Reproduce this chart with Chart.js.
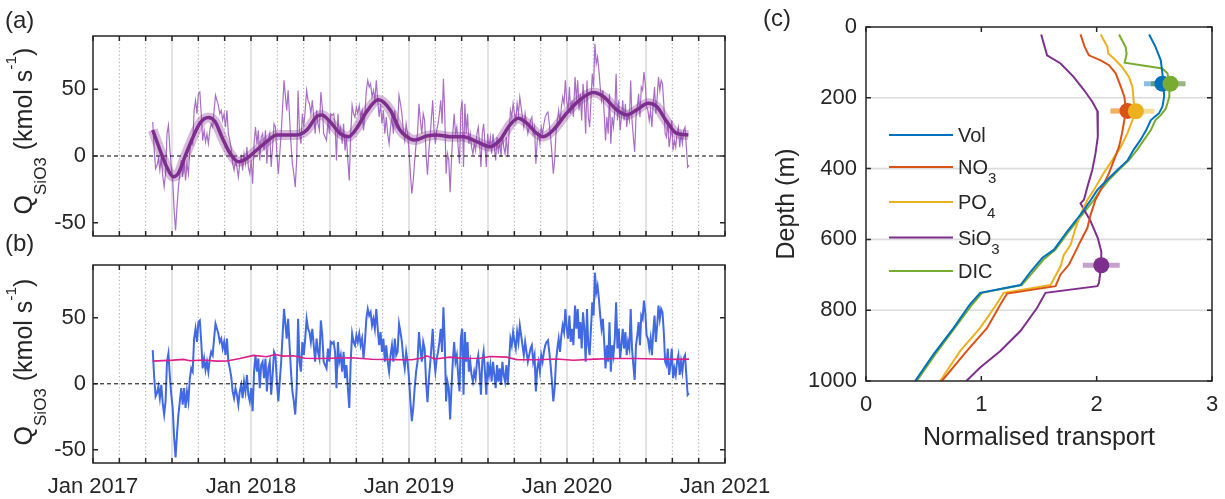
<!DOCTYPE html>
<html><head><meta charset="utf-8">
<script src="https://cdn.jsdelivr.net/npm/chart.js@4.4.1/dist/chart.umd.min.js"></script>
<style>
html,body{margin:0;padding:0;background:#fff;}
#wrap{position:relative;width:1225px;height:499px;overflow:hidden;background:#fff;}
canvas{position:absolute;}
</style></head><body>
<div id="wrap">
<canvas id="cc" width="465" height="499" style="left:760px;top:0"></canvas>
<canvas id="ca" width="760" height="245" style="left:0;top:0"></canvas>
<canvas id="cb" width="800" height="271" style="left:0;top:228px"></canvas>
</div>
<script>
// ---------------- DATA ----------------
const tickLabels = ['Jan 2017', 'Jan 2018', 'Jan 2019', 'Jan 2020', 'Jan 2021'];
const yTicksQ = [-50, 0, 50];

// raw Q_SiO3 record (kmol/s), four consecutive pieces, each sampled evenly between its first and last date (decimal year)
const seg1Range = [2017.378, 2018.209];
const seg1Q = [25.5,5.5,-9.5,-7.0,-2.0,-10.8,-0.8,-14.5,-23.3,-13.3,
16.7,23.0,5.5,-8.3,-18.3,-40.8,-55.8,-38.3,-23.3,-13.3,
-3.3,-15.8,-3.3,-18.3,-5.8,-13.3,4.2,11.7,9.2,34.2,
41.7,31.7,46.7,48.0,31.7,11.7,19.2,10.5,16.7,9.2,
19.2,24.2,21.7,34.2,45.5,41.7,38.0,31.7,34.2,26.7,
31.7,21.7,34.2,16.7,11.7,5.5,-5.8,-10.8,-3.3,-8.3,
-15.8,-5.8,-0.8,-10.8,1.7,-5.8,6.7,-8.3,-13.3,-3.3,
-20.8,9.2,21.7,9.2,19.2,-3.3,14.2,16.7,4.2,19.2,
-5.8,11.7,16.7,-8.3,6.7,24.2,21.7,1.7,-13.3,1.7,
16.7,36.7,56.7];
const seg2Range = [2018.226, 2019.135];
const seg2Q = [34.2,49.2,29.2,9.2,-5.8,-13.3,-23.3,-3.3,49.2,16.7,
9.2,31.7,21.7,34.2,49.2,41.7,39.2,31.7,41.7,29.2,
16.7,34.2,24.2,19.2,48.0,36.7,16.7,14.2,11.7,26.7,
16.7,31.7,30.5,31.7,24.2,-3.3,31.7,16.7,21.7,9.2,
24.2,4.2,14.2,-3.3,-18.3,16.7,38.0,31.7,29.2,36.7,
31.7,38.0,29.2,34.2,19.2,31.7,49.2,56.7,51.7,54.2,
44.2,49.2,41.7,56.7,41.7,29.2,39.2,24.2,34.2,16.7,
29.2,16.7,9.2,21.7,29.2,16.7,34.2,21.7,24.2,45.5,
39.2,31.7,19.2,11.7,24.2,16.7,4.2,-13.3,-28.3,-18.3,
-3.3,9.2,16.7,39.2,26.7,16.7,31.7,26.7,1.7,-14.0,
4.2,16.7];
const seg3Range = [2019.150, 2020.049];
const seg3Q = [41.7,19.2,9.2,19.2,24.2,31.7,41.7,24.2,58.0,31.7,
-13.3,1.7,-3.3,-27.1,-3.3,16.7,31.7,16.7,21.7,6.7,
-5.8,34.2,41.7,-8.3,39.2,16.7,31.7,9.2,16.7,6.7,
1.7,9.2,4.2,16.7,21.7,9.2,-8.3,16.7,24.2,9.2,
-8.3,16.7,6.7,14.2,1.7,16.7,6.7,-3.3,14.2,1.7,
11.7,-0.8,16.7,6.7,1.7,14.2,-0.8,16.7,34.2,29.2,
39.2,31.7,26.7,39.2,31.7,44.2,36.7,29.2,21.7,31.7,
24.2,16.7,21.7,26.7,29.2,16.7,21.7,-5.8,11.7,16.7,
9.2,21.7,16.7,24.2,29.2,31.7,33.0,24.2,14.2,1.7,
-13.3,-3.3,16.7,26.7,34.2,24.2,36.7,44.2,39.2,56.7,
41.7,34.2,51.7,31.7,41.7,29.2,54.2];
const seg4Range = [2020.051, 2020.772];
const seg4Q = [59.2,41.7,56.7,34.2,46.7,26.7,54.2,41.7,16.7,56.7,
29.2,21.7,41.7,61.7,51.7,84.2,69.2,74.2,64.2,51.7,
41.7,49.2,31.7,11.7,29.2,16.7,46.7,9.2,29.2,21.7,
34.2,61.7,26.7,41.7,19.2,29.2,41.7,26.7,39.2,21.7,
31.7,26.7,56.7,26.7,14.2,3.0,29.2,36.7,46.7,29.2,
51.7,49.2,63.0,54.2,36.7,34.2,26.7,34.2,21.7,39.2,
51.7,31.7,44.2,59.2,49.2,56.7,54.2,39.2,16.7,14.2,
26.7,6.7,14.2,26.7,4.2,11.7,6.7,16.7,21.7,6.7,
16.7,9.2,19.2,21.7,6.7,-8.3,-7.0];

// low-pass curve (panel a)
const smoothYr = [2017.378,2017.424,2017.466,2017.508,2017.540,2017.582,2017.625,2017.677,2017.730,2017.772,
2017.815,2017.867,2017.920,2017.973,2018.036,2018.099,2018.163,2018.226,2018.289,2018.353,
2018.416,2018.447,2018.500,2018.563,2018.616,2018.669,2018.732,2018.806,2018.880,2018.943,
2019.006,2019.038,2019.112,2019.175,2019.259,2019.344,2019.428,2019.513,2019.576,2019.639,
2019.692,2019.745,2019.808,2019.850,2019.913,2019.998,2020.082,2020.166,2020.230,2020.315,
2020.378,2020.441,2020.515,2020.568,2020.631,2020.694,2020.768];
const smoothQ = [19.5,4.5,-8,-15.5,-13,-0.5,12,24.6,28.8,25.8,
14.5,2,-4.3,-1.8,4.5,10.8,15.8,15.8,15.8,19.5,
29.6,30.8,25.8,17,14.5,20.8,33.3,42.1,34.6,19.5,
13,12,15,15.8,14.5,14.5,10.8,7,12,23.3,
28.3,24.6,17,14.5,19.5,32.1,42.1,47.6,44.6,34.6,
30.8,34.6,39.6,37.1,25.8,17,15.8];

// running mean (panel b, pink)
const meanYr = [2017.378,2017.508,2017.572,2017.614,2017.698,2017.783,2017.846,2017.930,2018.015,2018.099,
2018.152,2018.204,2018.268,2018.342,2018.426,2018.511,2018.637,2018.764,2018.891,2019.017,
2019.091,2019.112,2019.165,2019.259,2019.344,2019.449,2019.513,2019.618,2019.682,2019.808,
2019.935,2020.040,2020.177,2020.304,2020.430,2020.557,2020.684,2020.772];
const meanQ = [17.2,17.9,18.5,17.5,18.0,17.2,17.3,19.2,21.5,20.5,
22.2,21.0,21.2,19.3,19.2,19.4,19.7,18.6,18.3,18.2,
19.7,21.2,18.8,20.2,19.2,19.3,20.7,20.2,18.3,18.2,
18.8,17.8,18.7,19.2,19.2,18.8,18.5,18.7];

const zeroYr = [2017, 2021];
const zeroQ = [0, 0];

// panel c: normalised transport profiles
const seriesNames = ['Vol', 'NO3', 'PO4', 'SiO3', 'DIC'];
const volT = [2.455,2.51,2.556,2.57,2.58,2.585,2.57,2.54,2.47,2.43,2.38,2.32,2.27,2.18,2.09,2.006,1.95,1.86,1.745,1.63,1.53,1.43,1.34,0.99,0.90,0.76,0.585,0.426];
const volDepth = [21,56,94,131,160,197,225,244,263,291,319,347,376,404,432,460,488,530,577,629,652,690,729,751,784,850,925,1000];
const no3T = [1.86,1.896,1.933,2.035,2.107,2.165,2.21,2.24,2.25,2.25,2.24,2.22,2.194,2.15,2.107,2.05,1.99,1.948,1.919,1.86,1.803,1.76,1.687,1.643,1.223,1.165,1.05,0.875,0.658];
const no3Depth = [21,56,80,94,108,131,169,197,225,239,263,300,338,376,413,451,488,530,568,605,643,671,699,732,753,784,850,915,1000];
const po4T = [2.035,2.093,2.1,2.15,2.22,2.28,2.31,2.32,2.33,2.31,2.267,2.21,2.136,2.06,1.977,1.92,1.86,1.817,1.774,1.716,1.687,1.6,1.194,1.12,0.99,0.817,0.643];
const po4Depth = [21,56,75,89,113,141,169,206,239,263,300,338,376,413,460,488,530,568,615,643,676,729,751,789,850,915,1000];
const sio3T = [1.519,1.57,1.687,1.80,1.89,1.962,2.006,2.01,2.01,1.99,1.962,1.92,1.89,1.86,1.948,2.01,2.04,2.04,2.02,2.006,1.556,1.484,1.339,1.165,0.99,0.87];
const sio3Depth = [21,80,103,141,178,211,237,263,310,357,404,451,488,498,549,596,634,671,723,732,751,793,859,915,962,1000];
const dicT = [2.194,2.25,2.26,2.243,2.57,2.614,2.63,2.63,2.60,2.556,2.51,2.47,2.41,2.35,2.28,2.19,2.107,2.035,1.977,1.875,1.76,1.643,1.54,1.44,1.35,1.006,0.92,0.77,0.60,0.44];
const dicDepth = [21,56,75,101,117,131,160,197,230,249,263,291,319,347,376,404,432,460,488,530,577,629,657,695,729,751,784,850,925,1000];

// maxima with uncertainty (Vol, NO3, PO4, SiO3, DIC)
const peakT = [2.57, 2.267, 2.34, 2.04, 2.64];
const peakDepth = [160, 237, 238, 673, 160];
const peakLo = [2.41, 2.12, 2.12, 1.88, 2.47];
const peakHi = [2.70, 2.38, 2.50, 2.20, 2.77];

const depthTicks = [0, 200, 400, 600, 800, 1000];
const transportTicks = [0, 1, 2, 3];

// ---------------- STYLE / HELPERS ----------------
const FONT = "'Liberation Sans', Arial, Helvetica, sans-serif";
const INK = '#262626';
const TICK_SIZE = 22;
const TITLE_SIZE = 25;
const colors = ['#0072BD', '#D95319', '#EDB120', '#7E2F8E', '#77AC30'];
const errColors = ['rgba(0,114,189,0.45)', 'rgba(217,83,25,0.45)', 'rgba(237,177,32,0.45)', 'rgba(126,47,142,0.45)', 'rgba(80,130,50,0.6)'];
Chart.defaults.font.family = FONT;
Chart.defaults.color = INK;

function pts(xs, ys) { return xs.map((x, i) => ({ x: x, y: ys[i] })); }
function segPts(range, vals) {
  const n = vals.length;
  return vals.map((v, i) => ({ x: range[0] + (range[1] - range[0]) * i / (n - 1), y: v }));
}
const rawPts = [].concat(segPts(seg1Range, seg1Q), segPts(seg2Range, seg2Q), segPts(seg3Range, seg3Q), segPts(seg4Range, seg4Q));

const monthTicks = [];
for (let yr = 2017; yr < 2021; yr++) for (let m = 0; m < 12; m += 2) monthTicks.push(yr + m / 12);
monthTicks.push(2021);

function drawRich(ctx, parts, x, y, rotate, align) {
  ctx.save();
  ctx.fillStyle = INK; ctx.textBaseline = 'alphabetic'; ctx.textAlign = 'left';
  const widths = parts.map(p => { ctx.font = p.size + 'px ' + FONT; return ctx.measureText(p.t).width; });
  const total = widths.reduce((s, w) => s + w, 0);
  ctx.translate(x, y);
  if (rotate) ctx.rotate(-Math.PI / 2);
  let pos = align === 'center' ? -total / 2 : 0;
  parts.forEach((p, i) => { ctx.font = p.size + 'px ' + FONT; ctx.fillText(p.t, pos, p.dy || 0); pos += widths[i]; });
  ctx.restore();
}
function qTitle(ctx, x, cy) {
  drawRich(ctx, [
    { t: 'Q', size: 25 }, { t: 'SiO3', size: 17, dy: 14 }, { t: ' (kmol s', size: 25 },
    { t: '-1', size: 15.5, dy: -16 }, { t: ')', size: 25 }
  ], x, cy, true, 'center');
}

function framePlugin(cfg) {
  return {
    id: 'frame_' + cfg.name,
    beforeDatasetsDraw(chart) {
      const ctx = chart.ctx, a = chart.chartArea, x = chart.scales.x, y = chart.scales.y;
      ctx.save();
      if (cfg.timeGrid) {
        monthTicks.forEach(v => {
          const px = x.getPixelForValue(v);
          if (px < a.left + 2 || px > a.right - 2) return;
          const m = Math.round((v - Math.floor(v + 1e-9)) * 12);
          ctx.beginPath();
          if (m % 6 === 0) { ctx.strokeStyle = '#dcdcdc'; ctx.lineWidth = 1.6; ctx.setLineDash([]); }
          else { ctx.strokeStyle = '#a9a9a9'; ctx.lineWidth = 1; ctx.setLineDash([1.3, 2.4]); }
          ctx.moveTo(px, a.top); ctx.lineTo(px, a.bottom); ctx.stroke();
        });
      }
      if (cfg.yGrid) {
        ctx.setLineDash([]); ctx.strokeStyle = '#dcdcdc'; ctx.lineWidth = 1.6;
        y.ticks.forEach(t => {
          const py = y.getPixelForValue(t.value);
          if (py < a.top + 2 || py > a.bottom - 2) return;
          ctx.beginPath(); ctx.moveTo(a.left, py); ctx.lineTo(a.right, py); ctx.stroke();
        });
      }
      ctx.restore();
    },
    afterDatasetsDraw(chart) {
      const ctx = chart.ctx, a = chart.chartArea, x = chart.scales.x, y = chart.scales.y;
      ctx.save();
      ctx.setLineDash([]);
      ctx.strokeStyle = INK; ctx.lineWidth = 1.5;
      ctx.strokeRect(a.left, a.top, a.right - a.left, a.bottom - a.top);
      ctx.beginPath();
      x.ticks.forEach(t => {
        const px = x.getPixelForValue(t.value);
        ctx.moveTo(px, a.top); ctx.lineTo(px, a.top + 5);
        ctx.moveTo(px, a.bottom); ctx.lineTo(px, a.bottom - 5);
      });
      y.ticks.forEach(t => {
        const py = y.getPixelForValue(t.value);
        ctx.moveTo(a.left, py); ctx.lineTo(a.left + 5, py);
        ctx.moveTo(a.right, py); ctx.lineTo(a.right - 5, py);
      });
      ctx.stroke();
      if (cfg.after) cfg.after(ctx, chart);
      ctx.restore();
    }
  };
}

function timeChart(id, datasets, cfg) {
  return new Chart(document.getElementById(id), {
    type: 'line',
    data: { datasets: datasets },
    options: {
      responsive: false, animation: false, devicePixelRatio: 1,
      layout: { padding: { top: cfg.padTop, right: cfg.padRight, left: 0, bottom: 0 } },
      plugins: { legend: { display: false }, tooltip: { enabled: false } },
      elements: { point: { radius: 0 } },
      scales: {
        x: {
          type: 'linear', min: 2017, max: 2021,
          afterBuildTicks: s => { s.ticks = monthTicks.map(v => ({ value: v })); },
          ticks: {
            display: cfg.xLabels, autoSkip: false, maxRotation: 0, minRotation: 0, padding: 11,
            font: { size: TICK_SIZE }, color: INK,
            callback: v => { const r = Math.round(v); return Math.abs(v - r) < 1e-6 ? tickLabels[r - 2017] : ''; }
          },
          grid: { display: false, drawTicks: false }, border: { display: false },
          afterFit: s => { s.height = cfg.xHeight; s.paddingLeft = 0; s.paddingRight = 0; }
        },
        y: {
          type: 'linear', min: -60, max: 90,
          afterBuildTicks: s => { s.ticks = yTicksQ.map(v => ({ value: v })); },
          ticks: { padding: 7, font: { size: TICK_SIZE }, color: INK, callback: v => String(v) },
          grid: { display: false, drawTicks: false }, border: { display: false },
          afterFit: s => { s.width = 93; s.paddingTop = 0; s.paddingBottom = 0; }
        }
      }
    },
    plugins: [framePlugin(cfg)]
  });
}

// ---------------- PANEL (a) ----------------
timeChart('ca', [
  { data: pts(smoothYr, smoothQ), borderColor: '#7e2f8e', borderWidth: 3.5, cubicInterpolationMode: 'monotone', pointRadius: 0, order: 0 },
  { data: pts(smoothYr, smoothQ), borderColor: 'rgba(126,47,142,0.33)', borderWidth: 10, cubicInterpolationMode: 'monotone', pointRadius: 0, order: 1 },
  { data: pts(zeroYr, zeroQ), borderColor: '#000', borderWidth: 1, borderDash: [4, 3], pointRadius: 0, order: 2 },
  { data: rawPts, borderColor: '#a86dc5', borderWidth: 1.2, pointRadius: 0, order: 3 }
], {
  name: 'a', timeGrid: true, xLabels: false, padTop: 36, padRight: 35, xHeight: 9,
  after: (ctx) => {
    drawRich(ctx, [{ t: '(a)', size: 24 }], 5, 28, false, 'left');
    qTitle(ctx, 32, 131);
  }
});

// ---------------- PANEL (b) ----------------
timeChart('cb', [
  { data: pts(meanYr, meanQ), borderColor: '#dd1f8a', borderWidth: 1.6, pointRadius: 0, order: 0 },
  { data: pts(zeroYr, zeroQ), borderColor: '#000', borderWidth: 1, borderDash: [4, 3], pointRadius: 0, order: 1 },
  { data: rawPts, borderColor: '#4169e1', borderWidth: 2, pointRadius: 0, order: 2 }
], {
  name: 'b', timeGrid: true, xLabels: true, padTop: 37, padRight: 75, xHeight: 36,
  after: (ctx) => {
    drawRich(ctx, [{ t: '(b)', size: 24 }], 5, 23, false, 'left');
    qTitle(ctx, 32, 134);
  }
});

// ---------------- PANEL (c) ----------------
const profT = [volT, no3T, po4T, sio3T, dicT];
const profD = [volDepth, no3Depth, po4Depth, sio3Depth, dicDepth];
const cSets = [];
seriesNames.forEach((n, i) => {
  cSets.push({ label: n, data: pts(profT[i], profD[i]), borderColor: colors[i], borderWidth: 2, pointRadius: 0, order: 20 + i });
});
seriesNames.forEach((n, i) => {
  cSets.push({ data: pts([peakLo[i], peakHi[i]], [peakDepth[i], peakDepth[i]]), borderColor: errColors[i], borderWidth: 5, pointRadius: 0, order: 14 - i });
});
seriesNames.forEach((n, i) => {
  cSets.push({ data: pts([peakT[i]], [peakDepth[i]]), showLine: false, pointRadius: 8, pointHoverRadius: 8,
    pointBackgroundColor: colors[i], pointBorderColor: colors[i], pointBorderWidth: 0, order: 4 - i });
});

new Chart(document.getElementById('cc'), {
  type: 'line',
  data: { datasets: cSets },
  options: {
    responsive: false, animation: false, devicePixelRatio: 1,
    layout: { padding: { top: 27, right: 13, left: 0, bottom: 0 } },
    plugins: { legend: { display: false }, tooltip: { enabled: false } },
    scales: {
      x: {
        type: 'linear', min: 0, max: 3,
        afterBuildTicks: s => { s.ticks = transportTicks.map(v => ({ value: v })); },
        ticks: { padding: 11, font: { size: TICK_SIZE }, color: INK, callback: v => String(v), maxRotation: 0 },
        grid: { display: false, drawTicks: false }, border: { display: false },
        title: { display: true, text: 'Normalised transport', font: { size: TITLE_SIZE }, color: INK, padding: { top: 0, bottom: 46 } },
        afterFit: s => { s.height = 118; s.paddingLeft = 0; s.paddingRight = 0; }
      },
      y: {
        type: 'linear', min: 0, max: 1000, reverse: true,
        afterBuildTicks: s => { s.ticks = depthTicks.map(v => ({ value: v })); },
        ticks: { padding: 9, font: { size: TICK_SIZE }, color: INK, callback: v => String(v) },
        grid: { display: false, drawTicks: false }, border: { display: false },
        title: { display: true, text: 'Depth (m)', font: { size: TITLE_SIZE }, color: INK, padding: { top: 12, bottom: 0 } },
        afterFit: s => { s.width = 106; s.paddingTop = 0; s.paddingBottom = 0; }
      }
    }
  },
  plugins: [framePlugin({
    name: 'c', timeGrid: false, yGrid: true,
    after: (ctx, chart) => {
      const a = chart.chartArea;
      drawRich(ctx, [{ t: '(c)', size: 24 }], 3, 26, false, 'left');
      const rows = [135, 167, 202, 237.5, 271];
      seriesNames.forEach((name, i) => {
        const yy = rows[i];
        ctx.strokeStyle = colors[i]; ctx.lineWidth = 2; ctx.setLineDash([]);
        ctx.beginPath(); ctx.moveTo(a.left + 23, yy); ctx.lineTo(a.left + 87, yy); ctx.stroke();
        const m = name.match(/^(.*?)(\d*)$/);
        drawRich(ctx, [{ t: m[1], size: 20 }, { t: m[2], size: 15, dy: 9 }], a.left + 92, yy + 7, false, 'left');
      });
    }
  })]
});
</script>
</body></html>
